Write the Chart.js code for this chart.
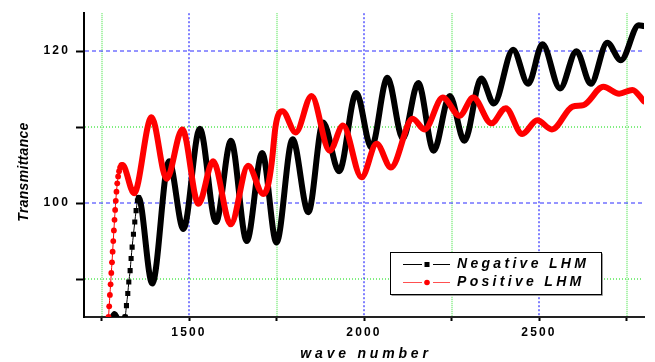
<!DOCTYPE html>
<html>
<head>
<meta charset="utf-8">
<title>Transmittance vs wave number</title>
<script src="https://cdn.jsdelivr.net/npm/chart.js@4.4.1/dist/chart.umd.min.js"></script>
<style>
  html, body { margin: 0; padding: 0; background: #fff; }
  #wrap { width: 655px; height: 362px; }
</style>
</head>
<body>
<div id="wrap"><canvas id="transChart" width="655" height="362"></canvas></div>
<script>
// Negative LHM (black squares)
const negWave = [1278, 1287, 1302,
  1317.5, 1321.3, 1325.1, 1328, 1331.8, 1334.6, 1337.5, 1341.3, 1345.1, 1348.9, 1352.7, 1356,
  1395, 1443, 1484, 1531, 1577, 1620, 1665, 1709, 1750, 1796, 1841, 1883, 1929, 1978,
  2021, 2067, 2111, 2155, 2199, 2245, 2287, 2335, 2371, 2426, 2469, 2510, 2560, 2607,
  2648, 2695, 2734, 2785, 2800];
const negTrans = [84.6, 85.4, 84.3,
  85.0, 86.5, 88.1, 89.6, 91.1, 92.7, 94.2, 95.9, 97.5, 99.0, 100.3, 100.7,
  89.4, 105.5, 96.6, 109.8, 97.5, 108.2, 95.0, 106.6, 94.8, 108.4, 98.8, 110.6, 104.2, 114.5,
  107.3, 116.5, 108.5, 115.8, 106.9, 114.1, 108.2, 116.4, 113.1, 120.2, 115.7, 120.9, 115.1, 120.0,
  115.7, 121.1, 118.8, 123.4, 123.3];

// Positive LHM (red circles)
const posWave = [1267, 1270, 1272, 1274, 1276, 1278, 1280, 1281.8, 1283.6, 1285.4, 1287.2, 1289,
  1290.8, 1292.8, 1295, 1297.5, 1300.2, 1303.2, 1306.5, 1310,
  1343, 1393, 1436, 1481, 1527, 1569, 1619, 1669, 1712, 1725, 1736, 1747, 1757, 1767,
  1805, 1850, 1902, 1940, 1993, 2036, 2077, 2139, 2173, 2225, 2273, 2312, 2364, 2405,
  2452, 2495, 2537, 2596, 2627, 2684, 2729, 2767, 2800];
const posTrans = [84.0, 85.0, 86.4, 87.9, 89.3, 90.8, 92.2, 93.6, 95.0, 96.4, 97.8, 99.1,
  100.3, 101.5, 102.6, 103.5, 104.2, 104.7, 105.0, 105.0,
  101.3, 111.3, 103.2, 109.7, 99.9, 105.5, 97.2, 104.9, 101.2, 102.2, 105.2, 110.0, 111.8, 112.1,
  109.3, 114.1, 106.9, 110.2, 103.4, 107.8, 104.7, 111.1, 109.7, 113.9, 111.5, 113.9, 110.5, 112.5,
  109.1, 110.9, 109.7, 112.7, 112.9, 115.3, 114.4, 114.9, 113.4];

// axis ticks
const xMajor = [1500, 2000, 2500];
const xMinor = [1250, 1750, 2250, 2750];
const yMajor = [100, 120];
const yMinor = [90, 110];

const FONT = '"Liberation Sans", Arial, sans-serif';

// points closer than this (in wave number) are drawn as separate markers on a thin line
function isDense(xs, i) {
  const prev = i > 0 ? xs[i] - xs[i - 1] : Infinity;
  const next = i < xs.length - 1 ? xs[i + 1] - xs[i] : Infinity;
  return Math.min(prev, next) < 4.5;
}

function toPoints(xs, ys) {
  return xs.map((x, i) => ({ x: x, y: ys[i] }));
}

function makeDataset(label, xs, ys, color, pointStyle, radius, order) {
  return {
    label: label,
    data: toPoints(xs, ys),
    borderColor: color,
    backgroundColor: color,
    borderWidth: 6,
    borderCapStyle: 'round',
    borderJoinStyle: 'round',
    cubicInterpolationMode: 'monotone',
    pointStyle: pointStyle,
    pointBorderWidth: 0,
    pointBackgroundColor: color,
    pointRadius: ctx => isDense(xs, ctx.dataIndex) ? radius : 0,
    segment: {
      borderWidth: ctx => (xs[ctx.p1DataIndex] - xs[ctx.p0DataIndex] < 4.5) ? 1 : 6
    },
    clip: 0,
    order: order
  };
}

// blue dashed major grid, green dotted minor grid
const gridPlugin = {
  id: 'originGrid',
  beforeDatasetsDraw(chart) {
    const { ctx, chartArea: a, scales: { x, y } } = chart;
    ctx.save();
    ctx.lineWidth = 1;
    const vline = (v, color, dash) => {
      const px = Math.round(x.getPixelForValue(v));
      ctx.strokeStyle = color;
      ctx.setLineDash(dash);
      ctx.beginPath();
      ctx.moveTo(px, a.top);
      ctx.lineTo(px, a.bottom - 1);
      ctx.stroke();
    };
    const hline = (v, color, dash) => {
      const py = Math.round(y.getPixelForValue(v));
      ctx.strokeStyle = color;
      ctx.setLineDash(dash);
      ctx.beginPath();
      ctx.moveTo(a.left + 1, py);
      ctx.lineTo(a.right - 2, py);
      ctx.stroke();
    };
    xMinor.forEach(v => vline(v, '#33e033', [1, 1]));
    yMinor.forEach(v => hline(v, '#00dd00', [1, 2]));
    xMajor.forEach(v => vline(v, '#0000ff', [2, 2]));
    yMajor.forEach(v => hline(v, '#2a2aff', [4, 3]));
    ctx.restore();
  }
};

// letter-spaced tick labels, axis titles and the boxed legend
const textPlugin = {
  id: 'originText',
  beforeDraw(chart) {
    chart.ctx.letterSpacing = '2.2px';
  },
  afterDraw(chart) {
    const ctx = chart.ctx;
    ctx.save();
    ctx.fillStyle = '#000';
    ctx.textBaseline = 'middle';

    // y title
    ctx.letterSpacing = '0.3px';
    ctx.font = 'italic bold 14px ' + FONT;
    ctx.textAlign = 'center';
    ctx.save();
    ctx.translate(24, 172);
    ctx.rotate(-Math.PI / 2);
    ctx.fillText('Transmittance', 0, 0);
    ctx.restore();

    // x title
    ctx.letterSpacing = '3.8px';
    ctx.fillText('wave number', 366, 354);

    // legend box
    const bx = 390.5, by = 252.5, bw = 211, bh = 42;
    ctx.fillStyle = '#fff';
    ctx.fillRect(bx, by, bw, bh);
    ctx.lineWidth = 1;
    ctx.strokeStyle = '#999';
    ctx.beginPath();
    ctx.moveTo(bx + bw + 1, by + 1);
    ctx.lineTo(bx + bw + 1, by + bh + 1);
    ctx.lineTo(bx + 1, by + bh + 1);
    ctx.stroke();
    ctx.strokeStyle = '#000';
    ctx.strokeRect(bx, by, bw, bh);

    const rows = [
      { text: 'Negative LHM', color: '#000', line: '#000', y: 264.5, square: true },
      { text: 'Positive LHM', color: '#f00', line: '#ff5050', y: 282.5, square: false }
    ];
    rows.forEach(r => {
      ctx.strokeStyle = r.line;
      ctx.beginPath();
      ctx.moveTo(403, r.y); ctx.lineTo(422, r.y);
      ctx.moveTo(433, r.y); ctx.lineTo(450, r.y);
      ctx.stroke();
      ctx.fillStyle = r.color;
      if (r.square) {
        ctx.fillRect(424.5, r.y - 2.5, 5, 5);
      } else {
        ctx.beginPath();
        ctx.arc(427, r.y, 2.8, 0, Math.PI * 2);
        ctx.fill();
      }
      ctx.fillStyle = '#000';
      ctx.letterSpacing = '3.3px';
      ctx.font = 'italic bold 14px ' + FONT;
      ctx.textAlign = 'left';
      ctx.fillText(r.text, 457, r.y);
    });
    ctx.restore();
    ctx.letterSpacing = '0px';
  }
};

function initTransChart() {
  const el = document.getElementById('transChart');
  if (!el) return;

  new Chart(el, {
    type: 'line',
    data: {
      datasets: [
        makeDataset('Negative LHM', negWave, negTrans, '#000', 'rect', 3.6, 1),
        makeDataset('Positive LHM', posWave, posTrans, '#f00', 'circle', 2.9, 0)
      ]
    },
    options: {
      responsive: false,
      animation: false,
      devicePixelRatio: 1,
      layout: { padding: { top: 12, right: 11, left: 0, bottom: 0 } },
      plugins: {
        legend: { display: false },
        tooltip: { enabled: false }
      },
      scales: {
        x: {
          type: 'linear',
          min: 1200,
          max: 2800,
          afterBuildTicks: s => { s.ticks = xMinor.concat(xMajor).sort((a, b) => a - b).map(v => ({ value: v })); },
          afterFit: s => { s.height = 45; },
          ticks: {
            autoSkip: false,
            maxRotation: 0,
            padding: 4,
            color: '#000',
            font: { family: FONT, size: 12, weight: 'bold' },
            callback: v => xMajor.includes(v) ? String(v) : ''
          },
          grid: { drawOnChartArea: false, drawTicks: true, tickLength: 4, tickWidth: 2, tickColor: '#000' },
          border: { display: true, color: '#222', width: 2 }
        },
        y: {
          type: 'linear',
          min: 85,
          max: 125,
          afterBuildTicks: s => { s.ticks = yMinor.concat(yMajor).sort((a, b) => a - b).map(v => ({ value: v })); },
          afterFit: s => { s.width = 84; },
          ticks: {
            autoSkip: false,
            padding: 6,
            color: '#000',
            font: { family: FONT, size: 12, weight: 'bold' },
            callback: v => yMajor.includes(v) ? String(v) : ''
          },
          grid: { drawOnChartArea: false, drawTicks: true, tickLength: 8, tickWidth: 2, tickColor: '#000' },
          border: { display: true, color: '#000', width: 2 }
        }
      }
    },
    plugins: [gridPlugin, textPlugin]
  });
}

initTransChart();
</script>
</body>
</html>
